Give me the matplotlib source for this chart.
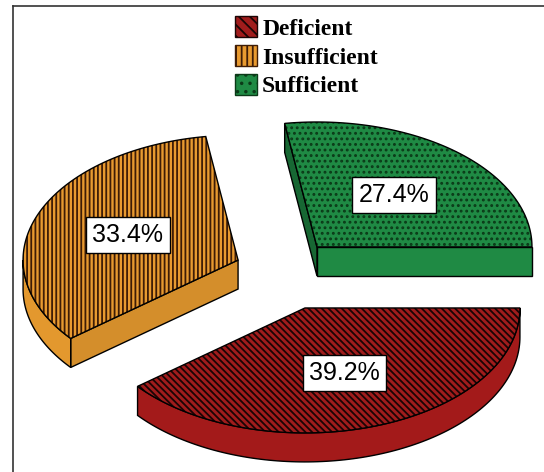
import numpy as np
import matplotlib
matplotlib.use('Agg')
import matplotlib.pyplot as plt
from matplotlib.patches import Polygon, Patch
from matplotlib.lines import Line2D
from matplotlib.colors import to_rgb

plt.rcParams['hatch.linewidth'] = 1.3

# data
labels = ['Deficient', 'Insufficient', 'Sufficient']
values = [39.2, 33.4, 27.4]

# style
top_colors = ['#a01c1c', '#e89a30', '#1f8a44']
side_colors = ['#a31a1a', '#e3982e', '#1f8a44']
hatch_colors = ['#1a0505', '#3e1c06', '#0b3a18']
hatches = ['\\\\\\\\\\', '||||', '...']
legend_hatches = ['\\\\\\', '|||', '..']
# where each slice apex sits after the explode (ellipse units)
shifts = [(0.102, -0.158), (-0.209, 0.065), (0.158, 0.126)]

B = 0.581      # vertical squash of the tilted disc
TH = 0.135     # thickness of the disc
LABEL_R = 0.55

fig = plt.figure(figsize=(5.44, 4.72), dpi=100)
ax = fig.add_axes([0, 0, 1, 1])
ax.set_xlim(-283 / 215, 261 / 215)
ax.set_ylim(-198 / 215, 274 / 215)
ax.axis('off')


def rim(cx, cy, t, z=0.0):
    t = np.radians(t)
    return np.column_stack([cx + np.cos(t), cy + B * np.sin(t) - z])


def shade(c, f):
    r, g, b = to_rgb(c)
    return (r * f, g * f, b * f)


# angles, starting at 3 o'clock and going clockwise
ends = -np.cumsum(values) / 100 * 360
starts = np.concatenate([[0], ends[:-1]])

for i in [2, 1, 0]:
    t1, t2 = ends[i], starts[i]  # ccw order t1 < t2
    cx, cy = shifts[i]
    apex = np.array([[cx, cy]])
    apex_b = np.array([[cx, cy - TH]])

    # radial side faces
    for t, nrm in [(t1, t1 - 90), (t2, t2 + 90)]:
        s = np.sin(np.radians(nrm))
        if s < 0:
            pts = np.vstack([apex, rim(cx, cy, t), rim(cx, cy, t, TH), apex_b])
            ax.add_patch(Polygon(pts, closed=True, fc=shade(side_colors[i], 0.7 + 0.3 * (-s)),
                                 ec='black', lw=1, zorder=2))

    # curved outer side (front half only)
    for lo, hi in [(-180, 0), (180, 360), (-540, -360)]:
        a, b = max(t1, lo), min(t2, hi)
        if b > a:
            th = np.linspace(a, b, 120)
            pts = np.vstack([rim(cx, cy, th), rim(cx, cy, th[::-1], TH)])
            ax.add_patch(Polygon(pts, closed=True, fc=side_colors[i], ec='black', lw=1, zorder=2))

    # top face
    th = np.linspace(t1, t2, 200)
    pts = np.vstack([apex, rim(cx, cy, th)])
    ax.add_patch(Polygon(pts, closed=True, fc=top_colors[i], ec=hatch_colors[i],
                         hatch=hatches[i], lw=0, zorder=3))
    ax.add_patch(Polygon(pts, closed=True, fill=False, ec='black', lw=1, zorder=4))

    m = np.radians((t1 + t2) / 2)
    ax.text(cx + LABEL_R * np.cos(m), cy + LABEL_R * B * np.sin(m), f'{values[i]:.1f}%',
            ha='center', va='center', fontsize=18, family='Liberation Sans', zorder=5,
            bbox=dict(boxstyle='square,pad=0.25', fc='white', ec='black', lw=1))

handles = [Patch(fc=top_colors[i], ec=hatch_colors[i], hatch=legend_hatches[i], lw=1)
           for i in range(3)]
fig.legend(handles, labels, loc='upper left', bbox_to_anchor=(235 / 544, 1 - 16 / 472),
           frameon=False, borderpad=0, borderaxespad=0, handlelength=0.95, handleheight=1.0,
           handletextpad=0.2, labelspacing=0.22,
           prop=dict(family='Liberation Serif', weight='bold', size=17))

# frame lines (top and left only)
fig.add_artist(Line2D([13 / 544, 13 / 544], [0, 1 - 6 / 472], color='#333333', lw=1.2))
fig.add_artist(Line2D([13 / 544, 1], [1 - 6 / 472, 1 - 6 / 472], color='#333333', lw=1.2))

fig.savefig('out.png', dpi=100)
